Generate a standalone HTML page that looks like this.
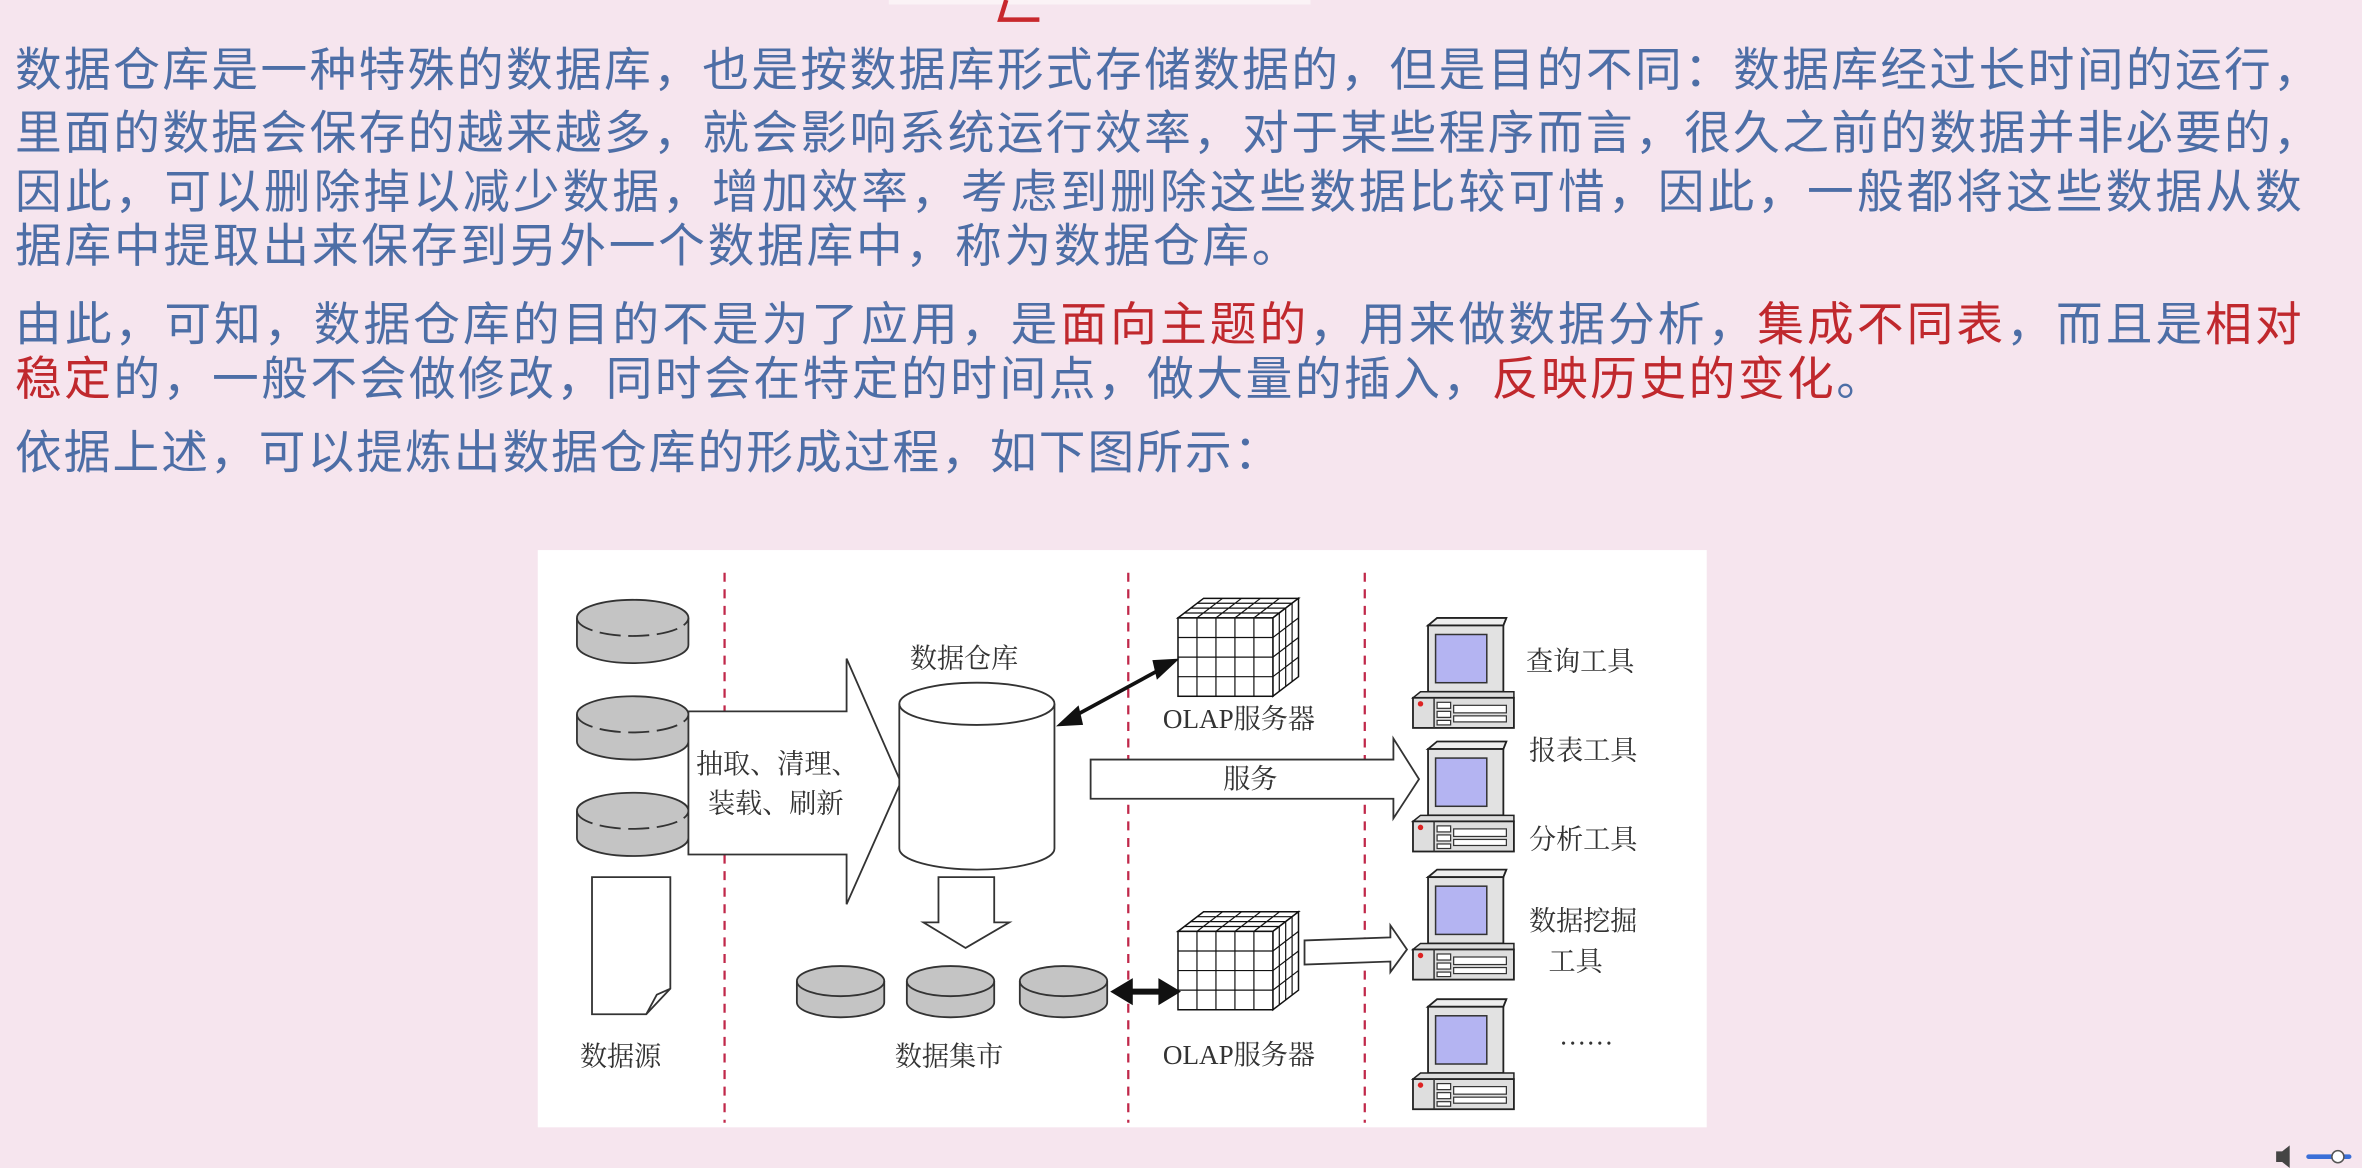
<!DOCTYPE html>
<html><head><meta charset="utf-8">
<style>
html,body{margin:0;padding:0;background:#f6e5ee;}
svg{display:block;}
</style></head>
<body>
<svg width="2362" height="1168" viewBox="0 0 1568 775" preserveAspectRatio="none" xmlns="http://www.w3.org/2000/svg">
<defs>
<g id="pc">
  <polygon points="10,5 16,0 62,0 60,5" fill="#eee" stroke="#222" stroke-width="1.2"/>
  <rect x="10" y="5" width="50" height="44" fill="#e2e2e2" stroke="#222" stroke-width="1.2"/>
  <line x1="60" y1="5" x2="62" y2="0" stroke="#222"/>
  <rect x="15" y="11" width="34" height="32" fill="#b4b4f2" stroke="#333" stroke-width="1"/>
  <polygon points="0,53 5,49 67,49 67,53" fill="#ddd" stroke="#222"/>
  <rect x="0" y="53" width="67" height="20" fill="#dedede" stroke="#222" stroke-width="1.2"/>
  <circle cx="5" cy="57" r="1.8" fill="#d22"/>
  <line x1="14" y1="53" x2="14" y2="73" stroke="#333"/>
  <rect x="16" y="56" width="9" height="4" fill="#fff" stroke="#333" stroke-width="0.8"/>
  <rect x="16" y="62" width="9" height="4" fill="#fff" stroke="#333" stroke-width="0.8"/>
  <rect x="16" y="68" width="9" height="3" fill="#fff" stroke="#333" stroke-width="0.8"/>
  <rect x="27" y="58" width="35" height="5" fill="#fff" stroke="#333" stroke-width="0.8"/>
  <rect x="27" y="65" width="35" height="4" fill="#fff" stroke="#333" stroke-width="0.8"/>
</g>
<g id="cube">
  <polygon points="0,13 17,0 80,0 63,13" fill="#fff" stroke="#111" stroke-width="1"/>
  <polygon points="63,13 80,0 80,52 63,65" fill="#fff" stroke="#111" stroke-width="1"/>
  <rect x="0" y="13" width="63" height="52" fill="#fff" stroke="#111" stroke-width="1"/>
  <path d="M12.6,13V65M25.2,13V65M37.8,13V65M50.4,13V65M0,26H63M0,39H63M0,52H63" stroke="#111" stroke-width="0.8"/>
  <path d="M4.25,9.75L67.25,9.75M8.5,6.5L71.5,6.5M12.75,3.25L75.75,3.25M29.6,0L12.6,13M42.2,0L25.2,13M54.8,0L37.8,13M67.4,0L50.4,13" stroke="#111" stroke-width="0.8"/>
  <path d="M63,26L80,13M63,39L80,26M63,52L80,39M67.25,9.75V61.75M71.5,6.5V58.5M75.75,3.25V55.25" stroke="#111" stroke-width="0.8"/>
</g>
<g id="disc">
  <path d="M0,12 A37,12 0 0 1 74,12 V30 A37,12 0 0 1 0,30 Z" fill="#c4c4c4" stroke="#333" stroke-width="1.2"/>
  <path d="M0,12 A37,12 0 0 0 74,12" fill="none" stroke="#333" stroke-width="1.2" stroke-dasharray="14,5"/>
</g>
<g id="disc2">
  <path d="M0,10 A29,10 0 0 1 58,10 V24 A29,10 0 0 1 0,24 Z" fill="#c4c4c4" stroke="#333" stroke-width="1.2"/>
  <path d="M0,10 A29,10 0 0 0 58,10" fill="none" stroke="#333" stroke-width="1.2"/>
</g>
</defs>

<rect x="0" y="0" width="1568" height="775" fill="#f6e5ee"/>
<rect x="590" y="0" width="280" height="3" fill="#fbf3f6"/>
<path d="M668,0 L664,13 L690,13" fill="none" stroke="#c8282d" stroke-width="3"/>

<g font-family="'Liberation Sans','Noto Sans CJK SC',sans-serif" font-size="31" fill="#4d6ea6">
<text x="10" y="57" textLength="1530" lengthAdjust="spacing">数据仓库是一种特殊的数据库，也是按数据库形式存储数据的，但是目的不同：数据库经过长时间的运行，</text>
<text x="10" y="99" textLength="1530" lengthAdjust="spacing">里面的数据会保存的越来越多，就会影响系统运行效率，对于某些程序而言，很久之前的数据并非必要的，</text>
<text x="10" y="138" textLength="1518" lengthAdjust="spacing">因此，可以删除掉以减少数据，增加效率，考虑到删除这些数据比较可惜，因此，一般都将这些数据从数</text>
<text x="10" y="174" textLength="852" lengthAdjust="spacing">据库中提取出来保存到另外一个数据库中，称为数据仓库。</text>
<text x="10" y="226" textLength="1518" lengthAdjust="spacing">由此，可知，数据仓库的目的不是为了应用，是<tspan fill="#c0282d">面向主题的</tspan>，用来做数据分析，<tspan fill="#c0282d">集成不同表</tspan>，而且是<tspan fill="#c0282d">相对</tspan></text>
<text x="10" y="262" textLength="1240" lengthAdjust="spacing"><tspan fill="#c0282d">稳定</tspan>的，一般不会做修改，同时会在特定的时间点，做大量的插入，<tspan fill="#c0282d">反映历史的变化</tspan>。</text>
<text x="10" y="311" textLength="840" lengthAdjust="spacing">依据上述，可以提炼出数据仓库的形成过程，如下图所示：</text>
</g>

<rect x="357" y="365" width="776" height="383" fill="#fff"/>
<g stroke="#c0284a" stroke-width="1.5" stroke-dasharray="6,5">
<line x1="481" y1="380" x2="481" y2="745"/>
<line x1="749" y1="380" x2="749" y2="745"/>
<line x1="906" y1="380" x2="906" y2="745"/>
</g>

<use href="#disc" x="383" y="398"/>
<use href="#disc" x="383" y="462"/>
<use href="#disc" x="383" y="526"/>

<polygon points="457,472 562,472 562,437 598,519 562,600 562,567 457,567" fill="#fff" stroke="#333" stroke-width="1.2"/>

<path d="M597,467 A51.5,14 0 0 1 700,467 V563 A51.5,14 0 0 1 597,563 Z" fill="#fff" stroke="#333" stroke-width="1.2"/>
<path d="M597,467 A51.5,14 0 0 0 700,467" fill="none" stroke="#333" stroke-width="1.2"/>

<polygon points="623,582 660,582 660,612 670,612 641,629 613,612 623,612" fill="#fff" stroke="#333" stroke-width="1.2"/>

<use href="#disc2" x="529" y="641"/>
<use href="#disc2" x="602" y="641"/>
<use href="#disc2" x="677" y="641"/>

<path d="M393,582 H445 V656 L429,673 H393 Z" fill="#fff" stroke="#333" stroke-width="1.2"/>
<path d="M445,656 L436,660 L429,673" fill="none" stroke="#333" stroke-width="1.2"/>

<use href="#cube" x="782" y="397"/>
<use href="#cube" x="782" y="605"/>

<line x1="708" y1="478" x2="776" y2="441" stroke="#111" stroke-width="2.5"/>
<polygon points="701,482 716,468 719,481" fill="#111"/>
<polygon points="783,437 768,451 765,438" fill="#111"/>
<line x1="748" y1="658" x2="772" y2="658" stroke="#111" stroke-width="4"/>
<polygon points="737,658 752,649 752,667" fill="#111"/>
<polygon points="784,658 769,649 769,667" fill="#111"/>

<polygon points="724,504 925,504 925,490 942,517 925,543 925,530 724,530" fill="#fff" stroke="#333" stroke-width="1.2"/>
<polygon points="866,624 923,622 923,614 934,630 923,645 923,638 866,640" fill="#fff" stroke="#333" stroke-width="1.2"/>

<use href="#pc" x="938" y="410"/>
<use href="#pc" x="938" y="492"/>
<use href="#pc" x="938" y="577"/>
<use href="#pc" x="938" y="663"/>

<g font-family="'Liberation Serif','Noto Serif CJK SC',serif" font-size="18" fill="#333">
<text x="604" y="443">数据仓库</text>
<text x="462" y="513">抽取、清理、</text>
<text x="470" y="539">装载、刷新</text>
<text x="772" y="483">OLAP服务器</text>
<text x="772" y="706">OLAP服务器</text>
<text x="812" y="523">服务</text>
<text x="594" y="707">数据集市</text>
<text x="385" y="707">数据源</text>
<text x="1013" y="445">查询工具</text>
<text x="1015" y="504">报表工具</text>
<text x="1015" y="563">分析工具</text>
<text x="1015" y="617">数据挖掘</text>
<text x="1028" y="644">工具</text>
<text x="1035" y="693">……</text>
</g>

<g fill="#444">
<polygon points="1511,764 1515,764 1520,760 1520,775 1515,771 1511,771"/>
<rect x="1531" y="766" width="30" height="3" rx="1.5" fill="#3a6fd8"/>
<circle cx="1552" cy="767.5" r="4" fill="#fff" stroke="#555"/>
</g>
</svg>
</body></html>
